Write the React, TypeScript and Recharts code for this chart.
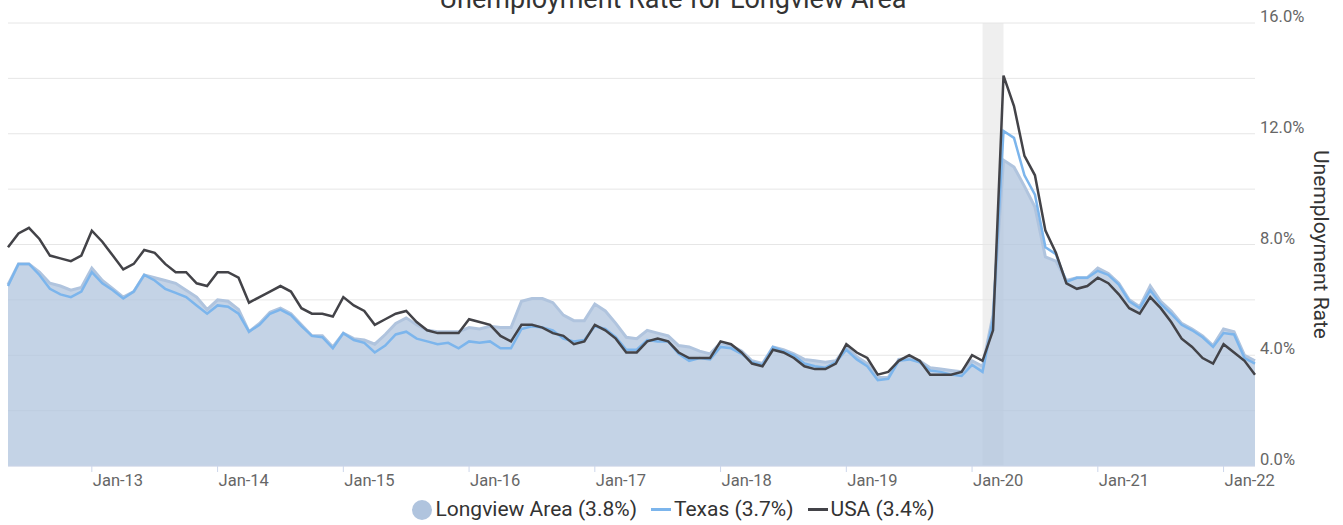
import React from 'react';
import { ComposedChart, Area, Line, XAxis, YAxis, CartesianGrid, ReferenceArea, Label } from 'recharts';

const months: string[] = [
  'May-12', 'Jun-12', 'Jul-12', 'Aug-12', 'Sep-12', 'Oct-12', 'Nov-12', 'Dec-12',
  'Jan-13', 'Feb-13', 'Mar-13', 'Apr-13', 'May-13', 'Jun-13', 'Jul-13', 'Aug-13', 'Sep-13', 'Oct-13', 'Nov-13', 'Dec-13',
  'Jan-14', 'Feb-14', 'Mar-14', 'Apr-14', 'May-14', 'Jun-14', 'Jul-14', 'Aug-14', 'Sep-14', 'Oct-14', 'Nov-14', 'Dec-14',
  'Jan-15', 'Feb-15', 'Mar-15', 'Apr-15', 'May-15', 'Jun-15', 'Jul-15', 'Aug-15', 'Sep-15', 'Oct-15', 'Nov-15', 'Dec-15',
  'Jan-16', 'Feb-16', 'Mar-16', 'Apr-16', 'May-16', 'Jun-16', 'Jul-16', 'Aug-16', 'Sep-16', 'Oct-16', 'Nov-16', 'Dec-16',
  'Jan-17', 'Feb-17', 'Mar-17', 'Apr-17', 'May-17', 'Jun-17', 'Jul-17', 'Aug-17', 'Sep-17', 'Oct-17', 'Nov-17', 'Dec-17',
  'Jan-18', 'Feb-18', 'Mar-18', 'Apr-18', 'May-18', 'Jun-18', 'Jul-18', 'Aug-18', 'Sep-18', 'Oct-18', 'Nov-18', 'Dec-18',
  'Jan-19', 'Feb-19', 'Mar-19', 'Apr-19', 'May-19', 'Jun-19', 'Jul-19', 'Aug-19', 'Sep-19', 'Oct-19', 'Nov-19', 'Dec-19',
  'Jan-20', 'Feb-20', 'Mar-20', 'Apr-20', 'May-20', 'Jun-20', 'Jul-20', 'Aug-20', 'Sep-20', 'Oct-20', 'Nov-20', 'Dec-20',
  'Jan-21', 'Feb-21', 'Mar-21', 'Apr-21', 'May-21', 'Jun-21', 'Jul-21', 'Aug-21', 'Sep-21', 'Oct-21', 'Nov-21', 'Dec-21',
  'Jan-22', 'Feb-22', 'Mar-22', 'Apr-22',
];

const longview: number[] = [
  6.55, 7.3, 7.3, 7.0, 6.6, 6.5, 6.35, 6.45,
  7.15, 6.7, 6.4, 6.1, 6.3, 6.9, 6.8, 6.7, 6.6, 6.35, 6.1, 5.65,
  6.0, 5.95, 5.65, 4.85, 5.15, 5.55, 5.7, 5.5, 5.1, 4.7, 4.7, 4.3,
  4.8, 4.6, 4.55, 4.4, 4.75, 5.15, 5.35, 5.1, 4.9, 4.85, 4.85, 4.85,
  5.0, 4.95, 5.05, 5.0, 5.0, 5.95, 6.05, 6.05, 5.9, 5.45, 5.25, 5.25,
  5.85, 5.6, 5.15, 4.65, 4.6, 4.9, 4.8, 4.7, 4.35, 4.3, 4.15, 4.05,
  4.45, 4.35, 4.15, 3.8, 3.7, 4.3, 4.2, 4.05, 3.85, 3.8, 3.75, 3.8,
  4.3, 3.95, 3.7, 3.2, 3.2, 3.85, 3.9, 3.8, 3.55, 3.5, 3.45, 3.4,
  3.8, 3.6, 5.45, 11.05, 10.8, 10.1, 9.35, 7.55, 7.4, 6.7, 6.8, 6.8,
  7.15, 6.95, 6.6, 6.0, 5.75, 6.5, 5.95, 5.6, 5.15, 4.95, 4.7, 4.35,
  4.95, 4.85, 4.0, 3.8,
];

const texas: number[] = [
  6.5, 7.3, 7.3, 6.9, 6.4, 6.2, 6.1, 6.3,
  7.0, 6.6, 6.35, 6.05, 6.3, 6.9, 6.7, 6.4, 6.25, 6.1, 5.8, 5.5,
  5.8, 5.75, 5.5, 4.85, 5.1, 5.5, 5.65, 5.45, 5.05, 4.7, 4.65, 4.25,
  4.8, 4.55, 4.45, 4.1, 4.35, 4.75, 4.85, 4.6, 4.5, 4.4, 4.45, 4.25,
  4.5, 4.45, 4.5, 4.25, 4.25, 4.95, 5.05, 5.0, 4.9, 4.6, 4.5, 4.55,
  5.05, 4.95, 4.65, 4.2, 4.2, 4.55, 4.5, 4.5, 4.05, 3.8, 3.9, 3.85,
  4.3, 4.25, 4.05, 3.75, 3.65, 4.3, 4.15, 4.0, 3.7, 3.6, 3.55, 3.75,
  4.2, 3.85, 3.6, 3.1, 3.15, 3.8, 3.85, 3.75, 3.45, 3.4, 3.3, 3.25,
  3.65, 3.4, 5.3, 12.1, 11.85, 10.5, 9.8, 7.9, 7.65, 6.65, 6.8, 6.8,
  7.05, 6.9, 6.55, 5.95, 5.7, 6.35, 5.85, 5.5, 5.1, 4.9, 4.65, 4.3,
  4.8, 4.75, 3.9, 3.7,
];

const usa: number[] = [
  7.9, 8.4, 8.6, 8.2, 7.6, 7.5, 7.4, 7.6,
  8.5, 8.1, 7.6, 7.1, 7.3, 7.8, 7.7, 7.3, 7.0, 7.0, 6.6, 6.5,
  7.0, 7.0, 6.8, 5.9, 6.1, 6.3, 6.5, 6.3, 5.7, 5.5, 5.5, 5.4,
  6.1, 5.8, 5.6, 5.1, 5.3, 5.5, 5.6, 5.2, 4.9, 4.8, 4.8, 4.8,
  5.3, 5.2, 5.1, 4.7, 4.5, 5.1, 5.1, 5.0, 4.8, 4.7, 4.4, 4.5,
  5.1, 4.9, 4.6, 4.1, 4.1, 4.5, 4.6, 4.5, 4.1, 3.9, 3.9, 3.9,
  4.5, 4.4, 4.1, 3.7, 3.6, 4.2, 4.1, 3.9, 3.6, 3.5, 3.5, 3.7,
  4.4, 4.1, 3.9, 3.3, 3.4, 3.8, 4.0, 3.8, 3.3, 3.3, 3.3, 3.4,
  4.0, 3.8, 4.9, 14.1, 13.0, 11.2, 10.5, 8.5, 7.7, 6.6, 6.4, 6.5,
  6.8, 6.6, 6.2, 5.7, 5.5, 6.1, 5.7, 5.2, 4.6, 4.3, 3.9, 3.7,
  4.4, 4.1, 3.8, 3.3,
];

const xTickLabels: string[] = ['Jan-13', 'Jan-14', 'Jan-15', 'Jan-16', 'Jan-17', 'Jan-18', 'Jan-19', 'Jan-20', 'Jan-21', 'Jan-22'];
const yTicks: number[] = [0, 2, 4, 6, 8, 10, 12, 14, 16];
const yTickLabels: number[] = [0, 4, 8, 12, 16];
const recessionStart = 'Feb-20';
const recessionEnd = 'Apr-20';

const title = 'Unemployment Rate for Longview Area';
const yAxisTitle = 'Unemployment Rate';
const legendItems = [
  { name: 'Longview Area (3.8%)', color: '#b0c4de', type: 'circle' },
  { name: 'Texas (3.7%)', color: '#7cb5ec', type: 'line' },
  { name: 'USA (3.4%)', color: '#434348', type: 'line' },
];

const data = months.map((m, i) => ({ idx: i, month: m, longview: longview[i], texas: texas[i], usa: usa[i] }));
const xTicks = xTickLabels.map((l) => months.indexOf(l));

const FONT = 'Roboto, "Noto Sans", sans-serif';

const XTick = (props: any) => {
  const { x, y, payload } = props;
  return (
    <text x={x + 1} y={y} dy={11.5} textAnchor="start" fill="#666666" fontSize={16.5} fontFamily={FONT}>
      {months[payload.value]}
    </text>
  );
};

const YTick = (props: any) => {
  const { x, y, payload } = props;
  if (!yTickLabels.includes(payload.value)) return <g />;
  return (
    <text x={x} y={y} dy={-1} textAnchor="start" fill="#666666" fontSize={16.5} fontFamily={FONT}>
      {payload.value.toFixed(1) + '%'}
    </text>
  );
};

const AxisTitle = (props: any) => {
  const vb = props.viewBox || { x: 1255, y: 23, width: 88, height: 443 };
  const cx = vb.x + 66;
  const cy = vb.y + vb.height / 2;
  return (
    <text
      x={cx}
      y={cy}
      transform={`rotate(90 ${cx} ${cy})`}
      textAnchor="middle"
      dominantBaseline="central"
      fill="#333333"
      fontSize={21}
      fontFamily={FONT}
    >
      {yAxisTitle}
    </text>
  );
};

export default function App() {
  return (
    <div style={{ position: 'absolute', left: 0, top: 0, width: 1343, height: 525, background: '#ffffff', overflow: 'hidden' }}>
      <ComposedChart width={1343} height={525} data={data} margin={{ top: 23, right: 0, left: 8, bottom: 0 }}>
        <CartesianGrid horizontal vertical={false} stroke="#e6e6e6" strokeWidth={1} />
        <ReferenceArea
          x1={months.indexOf(recessionStart)}
          x2={months.indexOf(recessionEnd)}
          fill="#efefef"
          fillOpacity={1}
          stroke="none"
          ifOverflow="hidden"
          {...({ zIndex: -150 } as any)}
        />
        <XAxis
          dataKey="idx"
          type="number"
          domain={[0, months.length - 1]}
          ticks={xTicks}
          interval={0}
          height={59}
          tick={<XTick />}
          tickSize={6}
          tickMargin={2}
          tickLine={{ stroke: '#ccd6eb' }}
          axisLine={{ stroke: '#ccd6eb' }}
          allowDecimals={false}
        />
        <YAxis
          orientation="right"
          type="number"
          domain={[0, 16]}
          ticks={yTicks}
          interval={0}
          width={88}
          tick={<YTick />}
          tickSize={0}
          tickMargin={5}
          tickLine={false}
          axisLine={false}
        >
          <Label content={<AxisTitle />} />
        </YAxis>
        <Area
          type="linear"
          dataKey="longview"
          name="Longview Area"
          stroke="#b0c4de"
          strokeWidth={3}
          fill="#b0c4de"
          fillOpacity={0.75}
          dot={false}
          activeDot={false}
          isAnimationActive={false}
        />
        <Line
          type="linear"
          dataKey="texas"
          name="Texas"
          stroke="#7cb5ec"
          strokeWidth={2.5}
          dot={false}
          activeDot={false}
          isAnimationActive={false}
        />
        <Line
          type="linear"
          dataKey="usa"
          name="USA"
          stroke="#434348"
          strokeWidth={2.5}
          dot={false}
          activeDot={false}
          isAnimationActive={false}
        />
      </ComposedChart>
      <svg width={1343} height={30} style={{ position: 'absolute', left: 0, top: 0, pointerEvents: 'none' }}>
        <text x={673} y={8} textAnchor="middle" fill="#333333" fontSize={27} fontFamily={FONT}>
          {title}
        </text>
      </svg>
      <div
        style={{
          position: 'absolute',
          left: 2,
          top: 499,
          width: 1343,
          display: 'flex',
          justifyContent: 'center',
          alignItems: 'center',
          fontFamily: FONT,
          fontSize: 21,
          lineHeight: '21px',
          color: '#333333',
          gap: 14,
        }}
      >
        {legendItems.map((it) => (
          <div key={it.name} style={{ display: 'flex', alignItems: 'center' }}>
            {it.type === 'circle' ? (
              <span style={{ display: 'inline-block', width: 20, height: 20, borderRadius: 10, background: it.color, marginRight: 3 }} />
            ) : (
              <span style={{ display: 'inline-block', width: 20, height: 3, background: it.color, marginRight: 3 }} />
            )}
            <span>{it.name}</span>
          </div>
        ))}
      </div>
    </div>
  );
}
